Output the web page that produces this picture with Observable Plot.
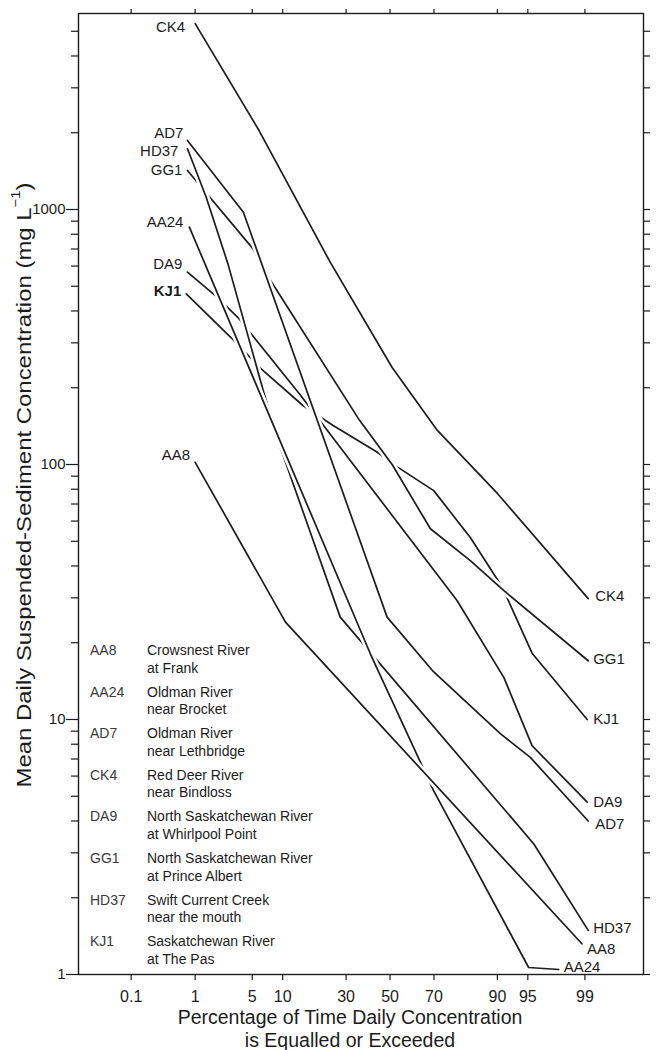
<!DOCTYPE html>
<html><head><meta charset="utf-8">
<script src="https://cdn.jsdelivr.net/npm/d3@7"></script>
<script src="https://cdn.jsdelivr.net/npm/@observablehq/plot@0.6"></script>
<style>html,body{margin:0;padding:0;background:#fff;}</style>
</head><body><div id="chart"></div>
<script>
// ---- data: [percentage of time equalled or exceeded, concentration mg/L]
const CK4  = [[1,5360],[5.9,2040],[23.8,620],[51,240],[71.4,136],[90,77],[99.1,29.8]];
const AD7  = [[0.78,1865],[4,976],[48.6,25.2],[69.8,15.4],[90.6,8.8],[95.3,7.1],[99.1,4.0]];
const HD37 = [[0.78,1730],[1.41,1117],[2.65,612],[6.5,195],[9.5,117],[27.6,25.2],[95.7,3.25],[99.1,1.49]];
const GG1  = [[0.78,1422],[5.1,701],[7.5,535],[35.8,149],[51,100],[68.5,56],[83.1,42],[91.3,32],[99.1,17]];
const AA24 = [[0.83,853],[40.7,18.1],[69.8,5.27],[95.1,1.065],[97.8,1.046]];
const DA9  = [[0.78,568],[1.9,456],[3.5,376],[14,189],[78.8,29.3],[91.3,14.6],[95.5,7.9],[99.07,4.74]];
const KJ1  = [[0.75,467],[2.9,314],[6.2,237],[15,170],[25,142],[43.8,112],[52.5,99],[69.9,79],[83.1,51.7],[91,33],[95.5,18.2],[99.07,10]];
const AA8  = [[1,102],[10.6,24.1],[98.9,1.32]];

const xTickValues = [0.1, 1, 5, 10, 30, 50, 70, 90, 95, 99];
const xTickLabels = ["0.1", "1", "5", "10", "30", "50", "70", "90", "95", "99"];
const yMajor = [1, 10, 100, 1000];
const yMinor = [2,3,4,5,6,7,8,9,20,30,40,50,60,70,80,90,200,300,400,500,600,700,800,900,2000,3000,4000,5000];
const xDomainPct = [0.01, 99.876];
const yDomain = [1, 5870];

const legendCodes = ["AA8","AA24","AD7","CK4","DA9","GG1","HD37","KJ1"];
const legendNames = [
  ["Crowsnest River","at Frank"],
  ["Oldman River","near Brocket"],
  ["Oldman River","near Lethbridge"],
  ["Red Deer River","near Bindloss"],
  ["North Saskatchewan River","at Whirlpool Point"],
  ["North Saskatchewan River","at Prince Albert"],
  ["Swift Current Creek","near the mouth"],
  ["Saskatchewan River","at The Pas"]
];

// inverse normal CDF (probability scale)
function probit(p) {
  const a=[-3.969683028665376e+01,2.209460984245205e+02,-2.759285104469687e+02,1.383577518672690e+02,-3.066479806614716e+01,2.506628277459239e+00];
  const b=[-5.447609879822406e+01,1.615858368580409e+02,-1.556989798598866e+02,6.680131188771972e+01,-1.328068155288572e+01];
  const c=[-7.784894002430293e-03,-3.223964580411365e-01,-2.400758277161838e+00,-2.549732539343734e+00,4.374664141464968e+00,2.938163982698783e+00];
  const d=[7.784695709041462e-03,3.224671290700398e-01,2.445134137142996e+00,3.754408661907416e+00];
  const pl=0.02425, ph=1-pl;
  if (p < pl) { const q=Math.sqrt(-2*Math.log(p)); return (((((c[0]*q+c[1])*q+c[2])*q+c[3])*q+c[4])*q+c[5])/((((d[0]*q+d[1])*q+d[2])*q+d[3])*q+1); }
  if (p <= ph) { const q=p-0.5, r=q*q; return (((((a[0]*r+a[1])*r+a[2])*r+a[3])*r+a[4])*r+a[5])*q/(((((b[0]*r+b[1])*r+b[2])*r+b[3])*r+b[4])*r+1); }
  const q=Math.sqrt(-2*Math.log(1-p)); return -(((((c[0]*q+c[1])*q+c[2])*q+c[3])*q+c[4])*q+c[5])/((((d[0]*q+d[1])*q+d[2])*q+d[3])*q+1);
}
const zOf = pct => probit(pct/100);
const px = d => zOf(d[0]);
const py = d => d[1];

const xTickZ = xTickValues.map(zOf);
const labelOf = new Map(xTickZ.map((z,i) => [z, xTickLabels[i]]));
const yAll = [...yMajor, ...yMinor];

const ink = "#1c1c1c";
const FONT = "'Liberation Sans', Arial, Helvetica, sans-serif";

// drawing order bottom -> top (white halo makes gaps at crossings)
const series = [
  ["KJ1", KJ1, {ldx:-5, ldy:-3, rdx:6, rdy:0, bold:true}],
  ["DA9", DA9, {ldx:-5, ldy:-8, rdx:6, rdy:0}],
  ["GG1", GG1, {ldx:-5, ldy:0, rdx:5, rdy:-2}],
  ["HD37", HD37, {ldx:-9, ldy:2, rdx:5, rdy:-2}],
  ["AA24", AA24, {ldx:-6, ldy:-5, rdx:5, rdy:-2}],
  ["AD7", AD7, {ldx:-4, ldy:-7, rdx:7, rdy:3}],
  ["AA8", AA8, {ldx:-5, ldy:-7, rdx:5, rdy:5}],
  ["CK4", CK4, {ldx:-10, ldy:4, rdx:7, rdy:-2}]
];

const lineMarks = [];
const labelMarks = [];
for (const [name, data, o] of series) {
  lineMarks.push(Plot.line(data, {x: px, y: py, stroke: "white", strokeWidth: 7, strokeLinecap: "butt"}));
  lineMarks.push(Plot.line(data, {x: px, y: py, stroke: ink, strokeWidth: 1.7, strokeLinejoin: "round"}));
  labelMarks.push(Plot.text([data[0]], {x: px, y: py, text: () => name, textAnchor: "end", dx: o.ldx, dy: o.ldy, fontSize: 15, fill: ink, fontWeight: o.bold ? "bold" : "normal"}));
  labelMarks.push(Plot.text([data[data.length-1]], {x: px, y: py, text: () => name, textAnchor: "start", dx: o.rdx, dy: o.rdy, fontSize: 15, fill: ink}));
}

const chart = Plot.plot({
  width: 657, height: 1050,
  marginLeft: 78, marginRight: 14, marginTop: 13, marginBottom: 76,
  style: {fontFamily: FONT, fontSize: "15px", color: ink, background: "white"},
  x: {type: "linear", domain: xDomainPct.map(zOf)},
  y: {type: "log", domain: yDomain},
  marks: [
    ...lineMarks,
    Plot.axisY(yMajor, {tickSize: 12, tickPadding: 1, fontSize: 15, tickFormat: d => String(d), label: null, strokeWidth: 1.2}),
    Plot.axisY(yMinor, {tickSize: 7, tickFormat: () => "", label: null, strokeWidth: 1.2}),
    Plot.axisY(yAll, {anchor: "right", tickSize: 6, tickFormat: () => "", label: null, strokeWidth: 1.2}),
    Plot.axisX(xTickZ, {tickSize: 6, tickPadding: 10, fontSize: 16, tickFormat: d => labelOf.get(d), label: null, strokeWidth: 1.2}),
    Plot.axisX(xTickZ, {anchor: "top", tickSize: 5, tickFormat: () => "", label: null, strokeWidth: 1.2}),
    Plot.frame({stroke: ink, strokeWidth: 1.4}),
    ...labelMarks
  ]
});
document.getElementById("chart").appendChild(chart);

const svg = d3.select(chart);
// y-axis title
const yt = svg.append("text")
  .attr("transform", "translate(23,485) rotate(-90)")
  .attr("text-anchor", "middle").attr("dominant-baseline", "central")
  .attr("font-family", FONT).attr("font-size", 21).attr("fill", ink)
  .attr("textLength", 605).attr("lengthAdjust", "spacingAndGlyphs");
yt.append("tspan").text("Mean Daily Suspended-Sediment Concentration (mg L");
yt.append("tspan").attr("font-size", 13).attr("baseline-shift", "super").text("\u22121");
yt.append("tspan").text(")");

// x-axis title (two lines)
const xTitle = ["Percentage of Time Daily Concentration", "is Equalled or Exceeded"];
xTitle.forEach((t, i) => {
  svg.append("text").attr("x", 350).attr("y", 1017 + i*23)
    .attr("text-anchor", "middle").attr("dominant-baseline", "central")
    .attr("font-family", FONT).attr("font-size", 19.5).attr("fill", ink).text(t);
});

// legend
legendCodes.forEach((code, i) => {
  const y0 = 650 + i*41.6;
  svg.append("text").attr("x", 90).attr("y", y0)
    .attr("text-anchor", "start").attr("dominant-baseline", "central")
    .attr("font-family", FONT).attr("font-size", 14).attr("fill", "#3a3a3a").text(code);
  legendNames[i].forEach((line, j) => {
    svg.append("text").attr("x", 147).attr("y", y0 + j*17.5)
      .attr("text-anchor", "start").attr("dominant-baseline", "central")
      .attr("font-family", FONT).attr("font-size", 14).attr("fill", ink).text(line);
  });
});
</script></body></html>
